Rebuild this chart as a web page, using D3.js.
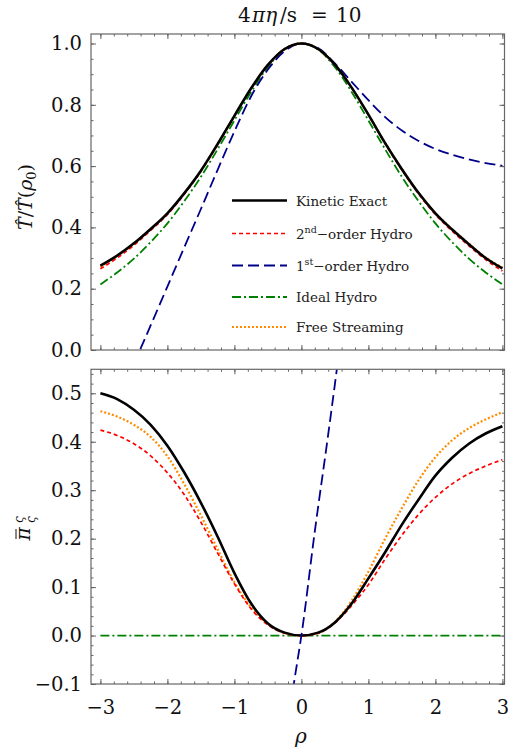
<!DOCTYPE html>
<html>
<head>
<meta charset="utf-8">
<script src="https://cdn.jsdelivr.net/npm/d3@7"></script>
<style>
  body { margin: 0; background: #fff; }
  svg text { font-family: "DejaVu Serif", "Liberation Serif", "Times New Roman", serif !important; }
</style>
</head>
<body>
<div id="graph"></div>
<script>

//----------------------------------------------------------
// data

var rho = [-3, -2.75, -2.5, -2.25, -2, -1.75, -1.5, -1.25, -1, -0.75, -0.5, -0.25,
           0, 0.25, 0.5, 0.75, 1, 1.25, 1.5, 1.75, 2, 2.25, 2.5, 2.75, 3];

// top panel: T / T(rho0)
var temp_kinetic = [0.275, 0.308, 0.348, 0.395, 0.446, 0.511, 0.585, 0.672, 0.764, 0.854, 0.930, 0.982,
                    1.0, 0.982, 0.931, 0.856, 0.768, 0.675, 0.590, 0.512, 0.446, 0.393, 0.345, 0.300, 0.266];
var temp_hydro2 = [0.265, 0.300, 0.342, 0.390, 0.442, 0.508, 0.583, 0.670, 0.763, 0.853, 0.930, 0.982,
                   1.0, 0.982, 0.931, 0.856, 0.767, 0.673, 0.587, 0.509, 0.442, 0.388, 0.340, 0.295, 0.258];
var temp_ideal = [0.214, 0.253, 0.298, 0.352, 0.413, 0.485, 0.565, 0.655, 0.749, 0.842, 0.923, 0.980,
                  1.0, 0.980, 0.923, 0.842, 0.749, 0.655, 0.565, 0.485, 0.413, 0.352, 0.298, 0.253, 0.214];
var temp_free = [0.272, 0.306, 0.347, 0.394, 0.445, 0.510, 0.585, 0.672, 0.764, 0.854, 0.930, 0.982,
                 1.0, 0.982, 0.931, 0.856, 0.768, 0.675, 0.590, 0.512, 0.446, 0.394, 0.347, 0.302, 0.269];

var rho_hydro1 = [-2.5, -2.25, -2, -1.75, -1.5, -1.25, -1, -0.75, -0.5, -0.25,
                  0, 0.25, 0.5, 0.75, 1, 1.25, 1.5, 1.75, 2, 2.25, 2.5, 2.75, 3];
var temp_hydro1 = [-0.045, 0.08, 0.207, 0.334, 0.46, 0.588, 0.713, 0.828, 0.915, 0.975,
                   1.0, 0.985, 0.935, 0.875, 0.815, 0.76, 0.716, 0.682, 0.656, 0.637, 0.622, 0.61, 0.601];

// bottom panel: shear stress
var pi_kinetic = [0.500, 0.488, 0.466, 0.435, 0.392, 0.337, 0.274, 0.204, 0.129, 0.066, 0.025, 0.006,
                  0.0, 0.006, 0.027, 0.066, 0.118, 0.172, 0.229, 0.281, 0.330, 0.367, 0.396, 0.417, 0.432];
var pi_hydro2 = [0.424, 0.413, 0.396, 0.371, 0.336, 0.291, 0.234, 0.170, 0.107, 0.055, 0.022, 0.005,
                 0.0, 0.005, 0.026, 0.062, 0.105, 0.158, 0.207, 0.250, 0.285, 0.313, 0.334, 0.350, 0.363];
var pi_ideal = [0, 0, 0, 0, 0, 0, 0, 0, 0, 0, 0, 0, 0, 0, 0, 0, 0, 0, 0, 0, 0, 0, 0, 0, 0];
var pi_free = [0.463, 0.452, 0.435, 0.410, 0.370, 0.313, 0.248, 0.178, 0.110, 0.058, 0.024, 0.005,
               0.0, 0.005, 0.028, 0.072, 0.132, 0.200, 0.263, 0.321, 0.368, 0.403, 0.428, 0.446, 0.461];

var rho_pi_hydro1 = [-0.2, -0.1, 0, 0.2, 0.4, 0.6];
var pi_hydro1 = [-0.18, -0.088, 0, 0.215, 0.415, 0.625];

var top_ticks = [0.0, 0.2, 0.4, 0.6, 0.8, 1.0];
var bottom_ticks = [-0.1, 0.0, 0.1, 0.2, 0.3, 0.4, 0.5];
var rho_ticks = [-3, -2, -1, 0, 1, 2, 3];

var series_names = ["Kinetic Exact", "2nd\u2212order Hydro", "1st\u2212order Hydro", "Ideal Hydro", "Free Streaming"];


//----------------------------------------------------------
var g_styles = {
    kinetic: { colour: "#000000", width: 2.6, dash: null },
    hydro2:  { colour: "#ff0000", width: 1.7, dash: "4,3" },
    hydro1:  { colour: "#00008b", width: 1.8, dash: "11,5" },
    ideal:   { colour: "#008000", width: 1.8, dash: "9,3,2,3" },
    free:    { colour: "#ff8c00", width: 2.2, dash: "2,2" }
};

const TICK_FONT = 19.5;

var g_svg = d3.select("#graph")
  .append("svg")
    .attr("width", 508)
    .attr("height", 755);

const frame_left = 91, frame_right = 504.5;
var g_x = d3.scaleLinear().domain([-3, 3]).range([100.4, 502.4]);

var g_panels = [
    { id: "top", top: 34, bottom: 350,
      y: d3.scaleLinear().domain([0, 1]).range([350, 43.5]),
      ticks: top_ticks, minor_step: 0.05,
      curves: [
        { key: "ideal",   xs: rho, ys: temp_ideal },
        { key: "hydro1",  xs: rho_hydro1, ys: temp_hydro1 },
        { key: "free",    xs: rho, ys: temp_free },
        { key: "hydro2",  xs: rho, ys: temp_hydro2 },
        { key: "kinetic", xs: rho, ys: temp_kinetic }
      ] },
    { id: "bottom", top: 369.3, bottom: 684,
      y: d3.scaleLinear().domain([-0.1, 0.5]).range([684, 393.3]),
      ticks: bottom_ticks, minor_step: 0.02,
      curves: [
        { key: "ideal",   xs: rho, ys: pi_ideal },
        { key: "free",    xs: rho, ys: pi_free },
        { key: "hydro2",  xs: rho, ys: pi_hydro2 },
        { key: "kinetic", xs: rho, ys: pi_kinetic },
        { key: "hydro1",  xs: rho_pi_hydro1, ys: pi_hydro1 }
      ] }
];


//----------------------------------------------------------
function MinorValues(lo, hi, step) {
    var out = [];
    for (var i = Math.ceil(lo / step - 1e-6); i * step <= hi + 1e-9; i++)
        out.push(+(i * step).toFixed(4));
    return out;
}

function StyleAxis(sel) {
    sel.select(".domain").remove();
    sel.selectAll("line").attr("stroke", "#555").attr("stroke-width", 0.9);
    sel.selectAll("text").attr("font-size", TICK_FONT).attr("fill", "#111");
}

function DrawPanel(panel, show_x_labels) {
    const y = panel.y;
    const g = g_svg.append("g");

    g.append("clipPath")
        .attr("id", "clip-" + panel.id)
      .append("rect")
        .attr("x", frame_left)
        .attr("y", panel.top)
        .attr("width", frame_right - frame_left)
        .attr("height", panel.bottom - panel.top);

    const line = d3.line()
        .x(function (d) { return g_x(d[0]); })
        .y(function (d) { return y(d[1]); })
        .curve(d3.curveMonotoneX);

    g.append("g")
        .attr("clip-path", "url(#clip-" + panel.id + ")")
      .selectAll("path")
      .data(panel.curves)
      .join("path")
        .attr("fill", "none")
        .attr("stroke", function (c) { return g_styles[c.key].colour; })
        .attr("stroke-width", function (c) { return g_styles[c.key].width; })
        .attr("stroke-dasharray", function (c) { return g_styles[c.key].dash; })
        .attr("d", function (c) {
            return line(c.xs.map(function (v, i) { return [v, c.ys[i]]; }));
        });

    const y_minor = MinorValues(y.domain()[0], y.invert(panel.top), panel.minor_step);
    const x_minor = MinorValues(-3, 3, 0.2);

    // left
    g.append("g").attr("transform", "translate(" + frame_left + ",0)")
        .call(d3.axisLeft(y).tickValues(y_minor).tickSize(-2.5).tickFormat(""))
        .call(StyleAxis);
    g.append("g").attr("transform", "translate(" + frame_left + ",0)")
        .call(d3.axisLeft(y).tickValues(panel.ticks).tickSize(-5).tickPadding(9)
            .tickFormat(d3.format(".1f")))
        .call(StyleAxis);
    // right
    g.append("g").attr("transform", "translate(" + frame_right + ",0)")
        .call(d3.axisRight(y).tickValues(y_minor).tickSize(-2.5).tickFormat(""))
        .call(StyleAxis);
    g.append("g").attr("transform", "translate(" + frame_right + ",0)")
        .call(d3.axisRight(y).tickValues(panel.ticks).tickSize(-5).tickFormat(""))
        .call(StyleAxis);
    // top
    g.append("g").attr("transform", "translate(0," + panel.top + ")")
        .call(d3.axisTop(g_x).tickValues(x_minor).tickSize(-2.5).tickFormat(""))
        .call(StyleAxis);
    g.append("g").attr("transform", "translate(0," + panel.top + ")")
        .call(d3.axisTop(g_x).tickValues(rho_ticks).tickSize(-5).tickFormat(""))
        .call(StyleAxis);
    // bottom
    g.append("g").attr("transform", "translate(0," + panel.bottom + ")")
        .call(d3.axisBottom(g_x).tickValues(x_minor).tickSize(-2.5).tickFormat(""))
        .call(StyleAxis);
    g.append("g").attr("transform", "translate(0," + panel.bottom + ")")
        .call(d3.axisBottom(g_x).tickValues(rho_ticks).tickSize(-5).tickPadding(16)
            .tickFormat(show_x_labels ? d3.format("d") : ""))
        .call(StyleAxis);

    g.append("rect")
        .attr("x", frame_left)
        .attr("y", panel.top)
        .attr("width", frame_right - frame_left)
        .attr("height", panel.bottom - panel.top)
        .attr("fill", "none")
        .attr("stroke", "#666")
        .attr("stroke-width", 1.2);
}

DrawPanel(g_panels[0], false);
DrawPanel(g_panels[1], true);


//----------------------------------------------------------
// legend
var legend_rows = [200.5, 233.5, 265.5, 297, 327];
var legend_keys = ["kinetic", "hydro2", "hydro1", "ideal", "free"];

var legend = g_svg.append("g")
  .selectAll("g")
  .data(legend_keys)
  .join("g")
    .attr("transform", function (k, i) { return "translate(0," + legend_rows[i] + ")"; });

legend.append("line")
    .attr("x1", 232).attr("x2", 287)
    .attr("stroke", function (k) { return g_styles[k].colour; })
    .attr("stroke-width", function (k) { return g_styles[k].width; })
    .attr("stroke-dasharray", function (k) { return g_styles[k].dash; });

legend.append("text")
    .attr("x", 296)
    .attr("y", 5)
    .attr("font-size", 13.5)
    .attr("fill", "#222")
    .each(function (k, i) {
        const t = d3.select(this);
        const name = series_names[i];
        const m = name.match(/^(\d)(nd|st)(.*)$/);
        if (m) {
            t.append("tspan").text(m[1]);
            t.append("tspan").attr("font-size", 9.5).attr("dy", -6).text(m[2]);
            t.append("tspan").attr("dy", 6).text(m[3]);
        } else {
            t.text(name);
        }
    });


//----------------------------------------------------------
// titles and axis labels
var title = g_svg.append("g").attr("font-size", 20).attr("fill", "#111");
title.append("text").attr("x", 238).attr("y", 22).text("4");
title.append("text").attr("x", 252).attr("y", 22).attr("font-style", "italic").text("\u03c0\u03b7");
title.append("text").attr("x", 280).attr("y", 22).text("/s");
title.append("text").attr("x", 311).attr("y", 22).text("=");
title.append("text").attr("x", 336).attr("y", 22).text("10");

g_svg.append("text")
    .attr("x", 301)
    .attr("y", 743)
    .attr("text-anchor", "middle")
    .attr("font-size", 20)
    .attr("font-style", "italic")
    .attr("fill", "#111")
    .text("\u03c1");

var ylab_top = g_svg.append("text")
    .attr("transform", "translate(32,197) rotate(-90)")
    .attr("text-anchor", "middle")
    .attr("font-size", 19)
    .attr("fill", "#111");
ylab_top.append("tspan").attr("font-style", "italic").text("T\u0302");
ylab_top.append("tspan").text("/");
ylab_top.append("tspan").attr("font-style", "italic").text("T\u0302");
ylab_top.append("tspan").text("(");
ylab_top.append("tspan").attr("font-style", "italic").text("\u03c1");
ylab_top.append("tspan").attr("font-size", 13).attr("dy", 4).text("0");
ylab_top.append("tspan").attr("dy", -4).text(")");

var ylab_bot = g_svg.append("g")
    .attr("transform", "translate(30,527) rotate(-90)");
ylab_bot.append("text")
    .attr("x", -7)
    .attr("text-anchor", "middle")
    .attr("font-size", 20)
    .attr("font-style", "italic")
    .attr("fill", "#111")
    .text("\u03c0");
ylab_bot.append("line")
    .attr("x1", -12).attr("x2", -2)
    .attr("y1", -14).attr("y2", -14)
    .attr("stroke", "#111").attr("stroke-width", 1);
ylab_bot.append("text")
    .attr("x", 4).attr("y", -7)
    .attr("font-size", 12).attr("font-style", "italic").attr("fill", "#111")
    .text("\u03c2");
ylab_bot.append("text")
    .attr("x", 4).attr("y", 5)
    .attr("font-size", 12).attr("font-style", "italic").attr("fill", "#111")
    .text("\u03c2");

</script>
</body>
</html>
